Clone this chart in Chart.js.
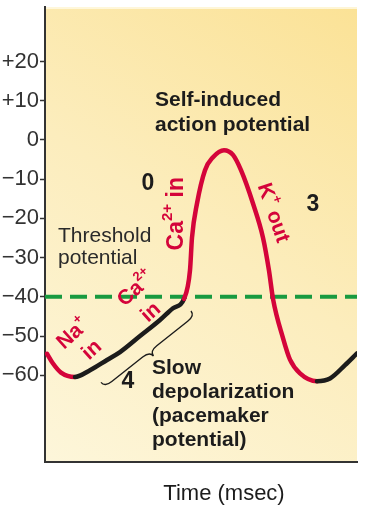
<!DOCTYPE html>
<html>
<head>
<meta charset="utf-8">
<script src="https://cdn.jsdelivr.net/npm/chart.js@4"></script>
<style>
  html, body { margin: 0; padding: 0; background: #fff; }
</style>
</head>
<body>
<canvas id="chart" width="366" height="508"></canvas>
<script>
// Datos del potencial de acción de marcapasos (tiempo en msec arbitrarios, potencial en mV)
const timeMs = [0, 6, 14, 28, 43, 60, 73, 93, 113, 126, 137, 143, 145, 150, 158, 166, 177, 186, 194, 206, 216, 222, 226, 236, 243, 253, 270, 283, 298, 310];
const potentialMv = [-54.5, -57, -59.3, -60.4, -58.7, -56.1, -54.1, -50, -45.9, -42.9, -40.5, -33.2, -24.9, -16.2, -7.7, -4.4, -2.6, -3.8, -7.7, -16.2, -24.9, -33.3, -40.5, -50.5, -56, -59.5, -61.5, -60.8, -57.4, -54.4];
// Fase del tramo que empieza en cada punto: "ion" (corrientes iónicas) o "slow" (despolarización lenta)
const segmentPhase = ["ion", "ion", "ion", "slow", "slow", "slow", "slow", "slow", "slow", "slow", "ion", "ion", "ion", "ion", "ion", "ion", "ion", "ion", "ion", "ion", "ion", "ion", "ion", "ion", "ion", "ion", "slow", "slow", "slow", "slow"];

// Umbral y marcas del eje Y
const thresholdMv = -40;
const yTickValues = [20, 10, 0, -10, -20, -30, -40, -50, -60];

// Textos
const xAxisTitle = "Time (msec)";
const FONT = "'Liberation Sans', Arial, Helvetica, sans-serif";
const RED = "#d4043a";
const GREEN = "#189a40";
const DARK = "#1c1c1c";

// Anotaciones en coordenadas de datos [t, mV]
const notes = [
  { lines: ["Self-induced", "action potential"], at: [108, 10.2], step: 6.4, bold: true, size: 21, color: DARK, align: "left" },
  { lines: ["Threshold", "potential"], at: [11, -24.5], step: 5.6, bold: false, size: 21, color: "#2a2a2a", align: "left" },
  { lines: ["Slow", "depolarization", "(pacemaker", "potential)"], at: [105, -58.2], step: 6.1, bold: true, size: 21, color: DARK, align: "left" },
  { lines: ["0"], at: [101, -11.2], bold: true, size: 23, color: DARK, align: "center" },
  { lines: ["3"], at: [266, -16.6], bold: true, size: 23, color: DARK, align: "center" },
  { lines: ["4"], at: [81, -61.7], bold: true, size: 23, color: DARK, align: "center" }
];

// Etiquetas de iones (texto con superíndice), rotadas
const ionLabels = [
  { parts: [["Ca"], ["2+", true], [" in"]], at: [130, -18.8], angle: -90, size: 23 },
  { parts: [["K"], ["+", true], [" out"]], at: [226, -18.6], angle: 71, size: 21 },
  { parts: [["Ca"], ["2+", true]], at: [89, -38], angle: -42, size: 21 },
  { parts: [["in"]], at: [104, -44], angle: -42, size: 21 },
  { parts: [["Na"], ["+", true]], at: [26, -49.5], angle: -42, size: 21 },
  { parts: [["in"]], at: [45, -53.6], angle: -42, size: 21 }
];

// Llave bajo la despolarización lenta: desde, hasta (datos)
const braceFrom = [54, -61.8];
const braceTo = [144, -43.6];

function fmtTick(v) {
  if (v > 0) return "+" + v;
  if (v < 0) return "\u2212" + Math.abs(v);
  return "0";
}

function drawRich(ctx, parts, x, y, angle, size, color) {
  const base = "bold " + size + "px " + FONT;
  const sup = "bold " + Math.round(size * 0.64) + "px " + FONT;
  let total = 0;
  parts.forEach(p => {
    ctx.font = p[1] ? sup : base;
    total += ctx.measureText(p[0]).width;
  });
  ctx.save();
  ctx.translate(x, y);
  ctx.rotate(angle * Math.PI / 180);
  ctx.fillStyle = color;
  ctx.textBaseline = "middle";
  ctx.textAlign = "left";
  let cx = -total / 2;
  parts.forEach(p => {
    ctx.font = p[1] ? sup : base;
    ctx.fillText(p[0], cx, p[1] ? -size * 0.38 : 0);
    cx += ctx.measureText(p[0]).width;
  });
  ctx.restore();
}

// Fondo degradado amarillo
const bgPlugin = {
  id: "bg",
  beforeDraw(chart) {
    const { ctx, chartArea: a } = chart;
    const g = ctx.createLinearGradient(a.left, a.bottom, a.right, a.top);
    g.addColorStop(0, "#fdf6da");
    g.addColorStop(0.5, "#fcedbd");
    g.addColorStop(1, "#fbe296");
    ctx.save();
    ctx.fillStyle = g;
    ctx.fillRect(a.left, a.top, a.right - a.left, a.bottom - a.top);
    ctx.fillStyle = "rgba(255,250,230,0.8)";
    ctx.fillRect(a.left, a.top, a.right - a.left, 2);
    ctx.restore();
  }
};

// Textos, llave y título del eje X
const notesPlugin = {
  id: "notes",
  afterDraw(chart) {
    const { ctx, scales: { x, y }, chartArea: a } = chart;
    ctx.save();
    notes.forEach(n => {
      ctx.font = (n.bold ? "bold " : "") + n.size + "px " + FONT;
      ctx.fillStyle = n.color;
      ctx.textAlign = n.align;
      ctx.textBaseline = "middle";
      n.lines.forEach((line, i) => {
        ctx.fillText(line, x.getPixelForValue(n.at[0]), y.getPixelForValue(n.at[1] - i * (n.step || 0)));
      });
    });
    ionLabels.forEach(l => {
      drawRich(ctx, l.parts, x.getPixelForValue(l.at[0]), y.getPixelForValue(l.at[1]), l.angle, l.size, RED);
    });

    // Llave
    const p1 = { x: x.getPixelForValue(braceFrom[0]), y: y.getPixelForValue(braceFrom[1]) };
    const p2 = { x: x.getPixelForValue(braceTo[0]), y: y.getPixelForValue(braceTo[1]) };
    const len = Math.hypot(p2.x - p1.x, p2.y - p1.y);
    const u = { x: (p2.x - p1.x) / len, y: (p2.y - p1.y) / len };
    const nrm = { x: -u.y, y: u.x };
    const h = 6, r = 9;
    const P = (b, du, dn) => [b.x + u.x * du + nrm.x * dn, b.y + u.y * du + nrm.y * dn];
    const mid = { x: (p1.x + p2.x) / 2, y: (p1.y + p2.y) / 2 };
    ctx.beginPath();
    ctx.moveTo(p1.x, p1.y);
    ctx.quadraticCurveTo(...P(p1, 0, h), ...P(p1, r, h));
    ctx.lineTo(...P(mid, -r, h));
    ctx.quadraticCurveTo(...P(mid, 0, h), ...P(mid, 0, 2 * h));
    ctx.quadraticCurveTo(...P(mid, 0, h), ...P(mid, r, h));
    ctx.lineTo(...P(p2, -r, h));
    ctx.quadraticCurveTo(...P(p2, 0, h), p2.x, p2.y);
    ctx.strokeStyle = DARK;
    ctx.lineWidth = 1.4;
    ctx.stroke();

    // Título del eje X
    ctx.font = "22px " + FONT;
    ctx.fillStyle = DARK;
    ctx.textAlign = "center";
    ctx.textBaseline = "middle";
    ctx.fillText(xAxisTitle, x.getPixelForValue(177), a.bottom + 32);
    ctx.restore();
  }
};

const points = timeMs.map((t, i) => ({ x: t, y: potentialMv[i] }));

new Chart(document.getElementById("chart"), {
  type: "line",
  data: {
    datasets: [
      {
        data: points,
        borderColor: RED,
        borderWidth: 4.5,
        borderCapStyle: "round",
        borderJoinStyle: "round",
        cubicInterpolationMode: "monotone",
        pointRadius: 0,
        segment: {
          borderColor: c => segmentPhase[c.p0DataIndex] === "slow" ? DARK : RED
        }
      },
      {
        data: [{ x: timeMs[0] - 2, y: thresholdMv }, { x: timeMs[timeMs.length - 1], y: thresholdMv }],
        borderColor: GREEN,
        borderWidth: 4,
        borderDash: [17, 8],
        pointRadius: 0
      }
    ]
  },
  options: {
    responsive: false,
    animation: false,
    layout: { padding: { top: 7, right: 9, left: 0, bottom: 0 } },
    plugins: { legend: { display: false }, tooltip: { enabled: false } },
    scales: {
      x: {
        type: "linear",
        min: -2,
        max: 310,
        ticks: { display: false },
        grid: { display: false, drawTicks: false },
        border: { display: true, color: "#333", width: 2 },
        afterFit: s => { s.height = 46; s.paddingLeft = 0; s.paddingRight = 0; }
      },
      y: {
        type: "linear",
        min: -82.1,
        max: 33.9,
        afterBuildTicks: s => { s.ticks = yTickValues.map(v => ({ value: v })); },
        afterFit: s => { s.width = 45; s.paddingTop = 0; s.paddingBottom = 0; },
        ticks: {
          callback: v => fmtTick(v),
          font: { family: FONT, size: 22 },
          color: "#333",
          padding: 1
        },
        grid: { drawOnChartArea: false, drawTicks: true, tickLength: 5, tickColor: "#333", tickWidth: 1.5 },
        border: { display: true, color: "#333", width: 2 }
      }
    }
  },
  plugins: [bgPlugin, notesPlugin]
});
</script>
</body>
</html>
